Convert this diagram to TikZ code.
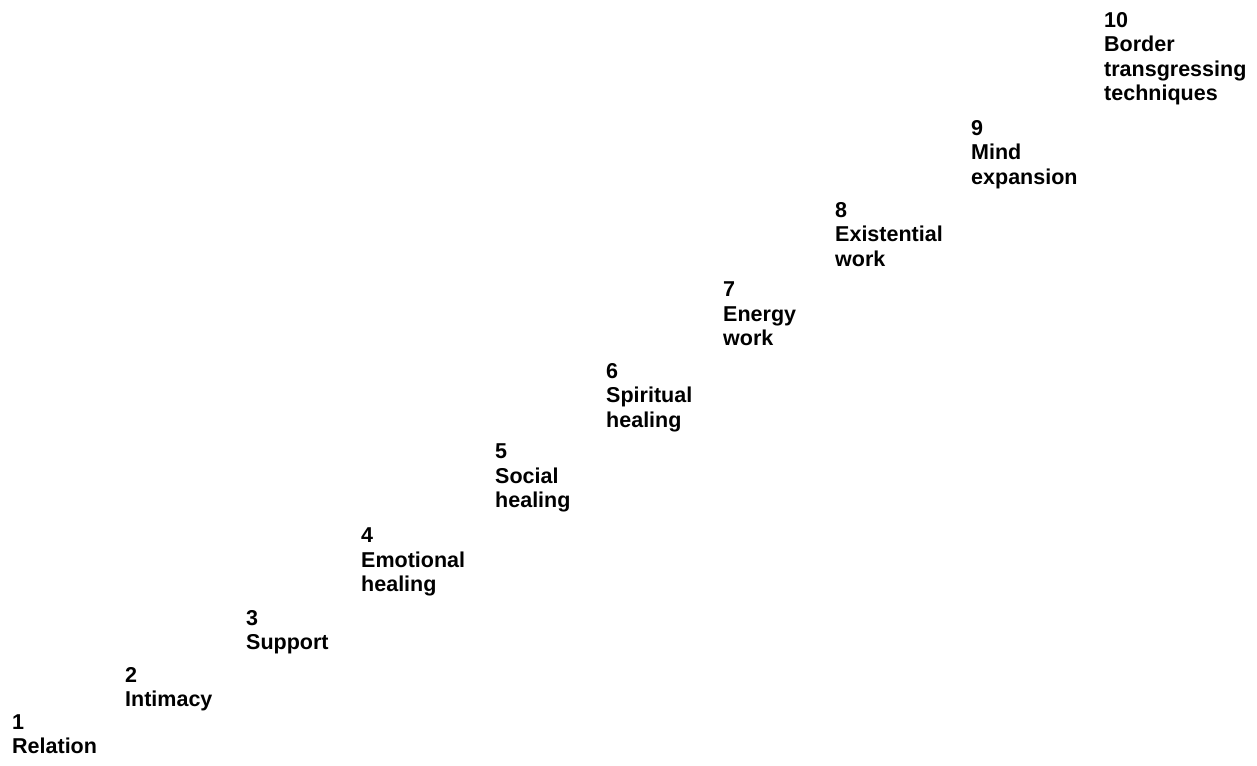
\documentclass[tikz,border=0pt]{standalone}
\usepackage{fontspec}
\setmainfont{Liberation Sans}
\begin{document}
\begin{tikzpicture}[x=1pt,y=-1pt,
  lvl/.style={anchor=north west,inner sep=0pt,align=left,
    font=\fontsize{21.5}{24.5}\selectfont\bfseries}]
\useasboundingbox (0,0) rectangle (1257,765);
\node[lvl] (n1)  at (12,714)  {1\\Relation};
\node[lvl] (n2)  at (125,667) {2\\Intimacy};
\node[lvl] (n3)  at (246,610) {3\\Support};
\node[lvl] (n4)  at (361,528) {4\\Emotional\\healing};
\node[lvl] (n5)  at (495,444) {5\\Social\\healing};
\node[lvl] (n6)  at (606,363) {6\\Spiritual\\healing};
\node[lvl] (n7)  at (723,282) {7\\Energy\\work};
\node[lvl] (n8)  at (835,202) {8\\Existential\\work};
\node[lvl] (n9)  at (971,120) {9\\Mind\\expansion};
\node[lvl] (n10) at (1104,12) {10\\Border\\transgressing\\techniques};
\end{tikzpicture}
\end{document}
